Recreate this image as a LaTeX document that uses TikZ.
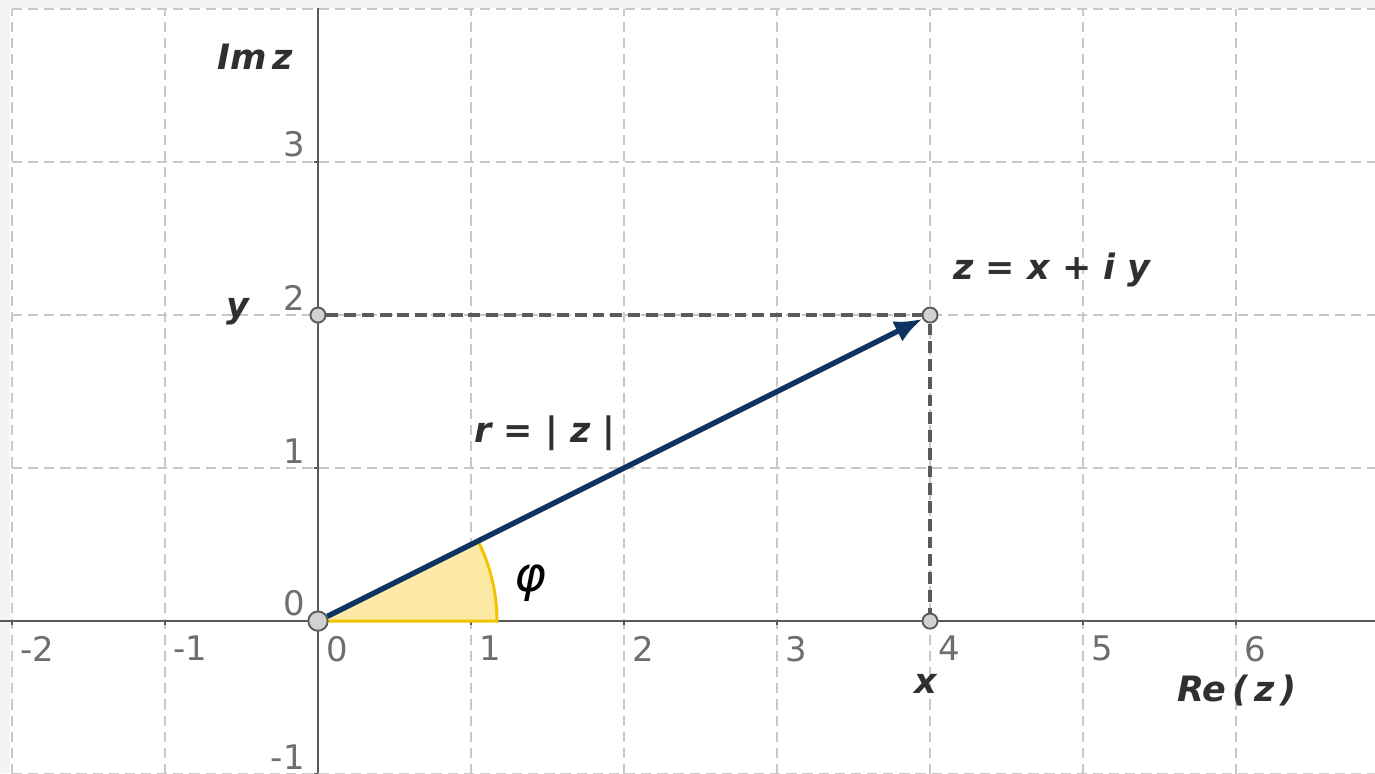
\documentclass[tikz,border=0pt]{standalone}
\usepackage{fontspec}
\setmainfont{DejaVu Sans}
\usepackage{tikz}
\usetikzlibrary{
  calc,
  positioning,
  arrows.meta
}
\definecolor{vecblue}{HTML}{0D3361}
\definecolor{anglegold}{HTML}{F2C400}
\definecolor{anglefill}{HTML}{FCE9A4}
\definecolor{gridgray}{HTML}{C8C8C8}
\definecolor{axisgray}{HTML}{5A5A5A}
\definecolor{pointgray}{HTML}{D2D2D2}
\definecolor{framegray}{HTML}{F3F5F5}
\definecolor{ticktext}{HTML}{6E6E6E}
\definecolor{labeltext}{HTML}{303030}

\begin{document}
\begin{tikzpicture}[> =Latex]
  \tikzset{
    gridline/.style={draw=gridgray, line width=0.25pt, dash pattern=on 1.9pt off 1.1pt},
    axisline/.style={draw=axisgray, line width=0.45pt},
    helpline/.style={draw=axisgray, line width=0.6pt, dash pattern=on 2.2pt off 1.1pt},
    pointdot/.style={circle, draw=axisgray, fill=pointgray, line width=0.35pt,
      inner sep=0pt, minimum size=2.8pt},
    ticklabel/.style={text=ticktext, font=\fontsize{6.3}{7}\selectfont, inner sep=0pt},
    axlabel/.style={text=labeltext, font=\fontsize{6.5}{8}\selectfont\bfseries\itshape,
      inner sep=0pt},
  }
  \useasboundingbox (-2.078,-0.993) rectangle (6.908,4.059);
  \fill[framegray] (-2.078,-0.993) rectangle (6.908,4.059);
  \fill[white] (-2.014,-0.993) rectangle (6.908,4.007);

  \draw[gridline] (-2,-1) grid (6.908,4);

  \coordinate (xl) at (-2.078,0);
  \coordinate (xr) at (6.908,0);
  \coordinate (yb) at (0,-0.993);
  \coordinate (yt) at (0,4.007);
  \draw[axisline] (xl) -- (xr);
  \draw[axisline] (yb) -- (yt);
  \foreach \x in {-2,...,6} \draw[axisline] (\x,0) -- (\x,-0.028);
  \foreach \y in {-1,...,3} \draw[axisline] (0,\y) -- (-0.028,\y);

  \foreach \x in {-2,...,6}
    \node[ticklabel, anchor=north west] (xt\x) at (\x+0.05,-0.09) {\x};
  \foreach \y in {-1,...,3}
    \node[ticklabel, anchor=south east] (yt\y) at (-0.08,\y+0.025) {\y};

  \filldraw[fill=anglefill, draw=anglegold, line width=0.55pt]
    (0,0) -- (1.17,0) arc (0:26.57:1.17) -- cycle;

  \node[pointdot] (Y) at (0,2) {};
  \node[pointdot] (X) at (4,0) {};
  \node[pointdot] (Z) at (4,2) {};
  \node[pointdot, minimum size=3.6pt] (O) at (0,0) {};

  \draw[helpline] (Y) -- (Z);
  \draw[helpline] (Z) -- (X);
  \draw[vecblue, line width=1pt, -{Latex[length=5.2pt,width=4.2pt]}] (O) -- (Z);

  \node[axlabel] (imlabel) at (-0.412,3.686) {Im\,z};
  \node[axlabel] (relabel) at (6.006,-0.451) {Re\,(\,z\,)};
  \node[axlabel] (ylabel) at (-0.523,2.02) {y};
  \node[axlabel] (xlabel) at (3.974,-0.41) {x};
  \node[axlabel] (zlabel) at (4.797,2.294) {z = x + i y};
  \node[axlabel] (rlabel) at (1.484,1.229) {r = | z |};
  \node[text=black, font=\fontsize{9}{10}\selectfont\itshape, inner sep=0pt]
    (philabel) at (1.386,0.248) {φ};
\end{tikzpicture}
\end{document}
